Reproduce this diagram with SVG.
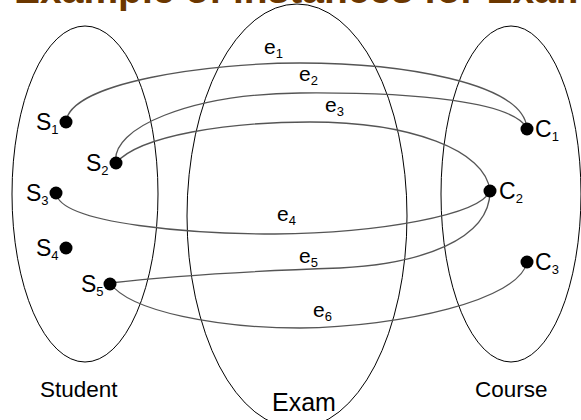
<svg xmlns="http://www.w3.org/2000/svg" width="581" height="420" viewBox="0 0 581 420">
<style>
.set{fill:none;stroke:#000;stroke-width:1}
.edge{fill:none;stroke:#555;stroke-width:1.3}
.dot{fill:#000}
.lbl{font-family:"Liberation Sans",Arial,sans-serif;font-size:23px;fill:#000}
.sub{font-size:13px}
.el{font-family:"Liberation Sans",Arial,sans-serif;font-size:21px;fill:#000}
.set-lbl{font-family:"Liberation Sans",Arial,sans-serif;font-size:22.5px;fill:#000}
.title{font-family:"Liberation Sans",Arial,sans-serif;font-size:39px;font-weight:bold;fill:#6b3700}
</style>
<rect width="581" height="420" fill="#fff"/>
<text class="title" x="14" y="3">Example of instances for Exam</text>
<g id="sets">
<g id="student"><ellipse class="set" cx="85" cy="194" rx="73" ry="168"/><text class="set-lbl" x="40" y="397">Student</text></g>
<g id="exam"><ellipse class="set" cx="297" cy="216" rx="110" ry="212"/><text class="set-lbl" x="272" y="411" style="font-size:25px">Exam</text></g>
<g id="course"><ellipse class="set" cx="511" cy="194" rx="70" ry="168"/><text class="set-lbl" x="475" y="397">Course</text></g>
</g>
<g id="connectors">
<path class="edge" d="M66,122 C70,82 210,63 300,63 C400,63 522,82 527,128"/>
<path class="edge" d="M116,163 C110,128 190,94 300,93 C420,92 512,102 527,128"/>
<path class="edge" d="M116,163 C140,135 230,122 310,122 C410,122 486,150 490,191"/>
<path class="edge" d="M56,193 C60,225 200,234 275,234 C380,233 480,215 490,191"/>
<path class="edge" d="M110,283 C180,275 280,270 340,268 C420,264 490,240 490,191"/>
<path class="edge" d="M110,283 C130,312 220,328 300,328 C400,327 520,300 527,262"/>
<text class="el" x="264" y="54">e<tspan class="sub" dy="4">1</tspan></text>
<text class="el" x="299" y="81">e<tspan class="sub" dy="4">2</tspan></text>
<text class="el" x="325" y="112">e<tspan class="sub" dy="4">3</tspan></text>
<text class="el" x="277" y="221">e<tspan class="sub" dy="4">4</tspan></text>
<text class="el" x="299" y="263">e<tspan class="sub" dy="4">5</tspan></text>
<text class="el" x="313" y="317">e<tspan class="sub" dy="4">6</tspan></text>
</g>
<g id="S1"><circle class="dot" cx="66" cy="122" r="6.5"/><text class="lbl" x="36" y="130">S<tspan class="sub" dy="4">1</tspan></text></g>
<g id="S2"><circle class="dot" cx="116" cy="163" r="6.5"/><text class="lbl" x="86" y="171">S<tspan class="sub" dy="4">2</tspan></text></g>
<g id="S3"><circle class="dot" cx="56" cy="193" r="6.5"/><text class="lbl" x="26" y="201">S<tspan class="sub" dy="4">3</tspan></text></g>
<g id="S4"><circle class="dot" cx="66" cy="248" r="6.5"/><text class="lbl" x="36" y="256">S<tspan class="sub" dy="4">4</tspan></text></g>
<g id="S5"><circle class="dot" cx="110" cy="284" r="6.5"/><text class="lbl" x="81" y="292">S<tspan class="sub" dy="4">5</tspan></text></g>
<g id="C1"><circle class="dot" cx="527" cy="129" r="6.5"/><text class="lbl" x="535" y="137">C<tspan class="sub" dy="4">1</tspan></text></g>
<g id="C2"><circle class="dot" cx="490" cy="191" r="6.5"/><text class="lbl" x="499" y="199">C<tspan class="sub" dy="4">2</tspan></text></g>
<g id="C3"><circle class="dot" cx="527" cy="262" r="6.5"/><text class="lbl" x="535" y="270">C<tspan class="sub" dy="4">3</tspan></text></g>
</svg>
